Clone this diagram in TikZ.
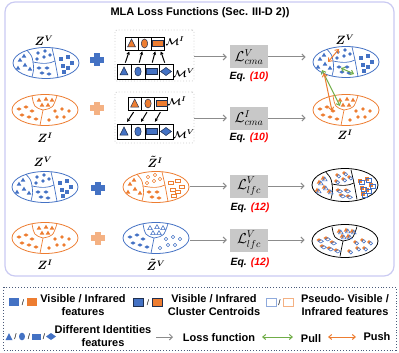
\documentclass[tikz,border=0pt]{standalone}
\usepackage{amsmath}
\usepackage{fontspec}
\setsansfont{Liberation Sans}
\usetikzlibrary{shapes.geometric,arrows.meta}
\definecolor{myblue}{HTML}{4472C4}
\definecolor{myorange}{HTML}{ED7D31}
\definecolor{lorange}{HTML}{F4A57A}
\definecolor{mygreen}{HTML}{70AD47}
\definecolor{lav}{HTML}{CACAF2}
\definecolor{legc}{HTML}{4A5A7A}
\definecolor{darkline}{HTML}{1F2F4F}
\definecolor{lboxc}{HTML}{C8C8C8}
\definecolor{garrc}{HTML}{8C8C8C}
\definecolor{lblue}{HTML}{8FAADC}
\definecolor{lorg}{HTML}{F4B183}
% small feature markers
\newcommand\mtri[3]{\path[#1] (#2,#3) ++(0,-2.3) -- ++(2.3,3.9) -- ++(-4.6,0) -- cycle;}
\newcommand\mcir[3]{\path[#1] (#2,#3) circle[radius=1.8pt];}
\newcommand\mrec[3]{\path[#1] (#2-2.3,#3-1.6) rectangle ++(4.6,3.2);}
\newcommand\mdia[3]{\path[#1] (#2-2.6,#3) -- ++(2.6,-1.7) -- ++(2.6,1.7) -- ++(-2.6,1.7) -- cycle;}
\newcommand\setFour[4]{%
 \foreach \a/\b in {-26/-3,-21/2,-28/5,-22/-7,-16/6} {\mtri{#1}{\a}{\b}}
 \foreach \a/\b in {-8/-10,-1/-12,4/-8,-9/-4,-2/-6} {\mcir{#2}{\a}{\b}}
 \foreach \a/\b in {-7/5,1/5,-4/10,3/11} {\mdia{#3}{\a}{\b}}
 \foreach \a/\b in {15/-4,22/-6,26/0,17/3,22/5,18/9} {\mrec{#4}{\a}{\b}}}
\newcommand\setThree[3]{%
 \foreach \a/\b in {-6/-10,1/-11,7/-10,-3/-5,3/-5} {\mtri{#1}{\a}{\b}}
 \foreach \a/\b in {-26/-1,-19/-3,-13/1,-23/5,-16/7,-9/9} {\mdia{#2}{\a}{\b}}
 \foreach \a/\b in {10/1,17/-1,24/1,12/7,19/7,4/10} {\mcir{#3}{\a}{\b}}}
\newcommand\fourlines[1]{%
 \draw[#1, line width=0.7pt] (-19,-12.7) .. controls (-14,-7) .. (-13,-1) .. controls (-3,1) and (3,1) .. (9,-2) .. controls (8,-9) .. (6,-15.2);
 \draw[#1, line width=0.7pt] (-13,-1) .. controls (-12,6) .. (-14,14);
 \draw[#1, line width=0.7pt] (9,-2) .. controls (10,6) .. (12,14.4);}
\newcommand\threelines[1]{%
 \draw[#1, line width=0.7pt] (-13,-14.2) .. controls (-11,-3) .. (-2,0) .. controls (8,-2) .. (12,-14.4);
 \draw[#1, line width=0.7pt] (-2,0) .. controls (-3,8) .. (-5,15.3);}
% cell shapes
\newcommand\cTri[2]{\filldraw[fill=#1,draw=darkline,line width=0.5pt] (#2) ++(0,-4.5) -- ++(4,8) -- ++(-8,0) -- cycle;}
\newcommand\cCir[2]{\filldraw[fill=#1,draw=darkline,line width=0.5pt] (#2) ellipse[x radius=3.2pt, y radius=4.5pt];}
\newcommand\cRec[2]{\filldraw[fill=#1,draw=darkline,line width=0.5pt] (#2) ++(-5.5,-3) rectangle ++(11,6);}
\newcommand\cDia[2]{\filldraw[fill=#1,draw=darkline,line width=0.5pt] (#2) ++(-5.5,0) -- ++(5.5,-4) -- ++(5.5,4) -- ++(-5.5,4) -- cycle;}
\newcommand\plussign[2]{\fill[#1] (#2) ++(-2.6,-6.5) rectangle ++(5.2,13); \fill[#1] (#2) ++(-7,-2.6) rectangle ++(14,5.2);}
\begin{document}
\begin{tikzpicture}[x=1pt,y=-1pt,
 ell/.style={ellipse, minimum width=66pt, minimum height=31pt, inner sep=0pt, line width=0.8pt},
 mbox/.style={draw=gray!40, dotted, line width=0.9pt, rounded corners=2pt, inner sep=0pt, minimum width=79pt, minimum height=51pt},
 cell/.style={draw=black, fill=white, line width=0.8pt, inner sep=0pt},
 celli/.style={cell, minimum width=13pt, minimum height=13pt},
 cellv/.style={cell, minimum width=14pt, minimum height=15pt},
 marr/.style={-{Stealth[length=3.5pt,width=3.5pt]}, line width=1pt, shorten <=1pt, shorten >=1pt},
 garr/.style={-{Straight Barb[length=3pt,width=6pt]}, draw=garrc, line width=1pt},
 dbl/.style={{Straight Barb[length=3pt,width=5pt]}-{Straight Barb[length=3pt,width=5pt]}, line width=1pt},
 lbox/.style={fill=lboxc, minimum width=38pt, minimum height=23pt, inner sep=0pt, font=\fontsize{14}{16}\selectfont},
 eqlab/.style={font=\sffamily\bfseries\itshape\fontsize{10.5}{12}\selectfont},
 zlab/.style={font=\fontsize{11.5}{13}\selectfont\boldmath, inner sep=0pt},
 mlab/.style={font=\fontsize{10}{12}\selectfont\boldmath, inner sep=0pt},
 leg/.style={font=\sffamily\bfseries\fontsize{11}{13}\selectfont, align=center, inner sep=0pt},
 sl/.style={font=\sffamily\fontsize{8}{9}\selectfont, inner sep=0pt},
 fb/.style={fill=myblue}, fo/.style={fill=myorange},
 hb/.style={draw=myblue, line width=0.6pt}, ho/.style={draw=myorange, line width=0.6pt}]
\useasboundingbox (0,0) rectangle (399,353);
\draw[lav, line width=1.2pt, rounded corners=10pt] (5,2) rectangle (394,276);
\node[font=\sffamily\bfseries\fontsize{11}{13}\selectfont] (title) at (200,13) {MLA Loss Functions (Sec. III-D 2))};

% ===== Row 1 =====
\node[ell, draw=myblue] (zv1) at (46,63) {};
\begin{scope}[shift={(46,63)}] \fourlines{myblue} \setFour{fb}{fb}{fb}{fb} \end{scope}
\node[zlab] (lzv1) at (44,41) {$Z^{V}$};
\plussign{myblue}{97,60}
\node[mbox] (mb1) at (154.5,55.5) {};
\node[celli] (i11) at (131.5,43.5) {};
\node[celli] (i12) at (144.5,43.5) {};
\node[celli] (i13) at (157.5,43.5) {};
\node[cellv] (v11) at (124,71.5) {};
\node[cellv] (v12) at (138,71.5) {};
\node[cellv] (v13) at (152,71.5) {};
\node[cellv] (v14) at (166,71.5) {};
\cTri{myorange}{i11.center} \cCir{myorange}{i12.center} \cRec{myorange}{i13.center}
\cTri{myblue}{v11.center} \cCir{myblue}{v12.center} \cRec{myblue}{v13.center} \cDia{myblue}{v14.center}
\node[mlab] (mi1) at (175,41) {$\mathcal{M}^{I}$};
\node[mlab] (mv1) at (184,73) {$\mathcal{M}^{V}$};
\draw[marr] ([xshift=1pt]v11.north) -- ([xshift=-2pt]i11.south);
\draw[marr] ([xshift=1pt]v12.north) -- ([xshift=-2pt]i12.south);
\draw[marr] (v13.north) -- ([xshift=-2pt]i13.south);
\draw[marr] ([xshift=-1pt]v14.north) -- ([xshift=3pt]i13.south);
\node[lbox] (L1) at (249,57) {$\mathcal{L}^{V}_{cma}$};
\node[eqlab] (e1) at (249,77) {Eq. \textcolor{red}{(10)}};
\draw[garr, shorten >=3pt] (mb1.east |- L1.west) -- (L1.west);
\node[ell, draw=myblue] (zvr) at (346,62) {};
\begin{scope}[shift={(346,62)}] \fourlines{myblue} \setFour{fb}{fb}{fb}{fb} \end{scope}
\node[zlab] (lzvr) at (345,40) {$Z^{V}$};
\draw[garr, shorten >=7pt] (L1.east) -- (L1.east -| zvr.west);

% ===== Row 2 =====
\node[ell, draw=myorange] (zi2) at (45,110) {};
\begin{scope}[shift={(45,110)}] \threelines{myorange} \setThree{fo}{fo}{fo} \end{scope}
\node[zlab] (lzi2) at (45,138) {$Z^{I}$};
\plussign{lorg}{97,108}
\node[mbox] (mb2) at (154.5,117.5) {};
\node[celli] (i21) at (134.7,103.5) {};
\node[celli] (i22) at (148,103.5) {};
\node[celli] (i23) at (161.3,103.5) {};
\node[cellv] (v21) at (124,131.5) {};
\node[cellv] (v22) at (138,131.5) {};
\node[cellv] (v23) at (152,131.5) {};
\node[cellv] (v24) at (166,131.5) {};
\cTri{myorange}{i21.center} \cCir{myorange}{i22.center} \cRec{myorange}{i23.center}
\cTri{myblue}{v21.center} \cCir{myblue}{v22.center} \cRec{myblue}{v23.center} \cDia{myblue}{v24.center}
\node[mlab] (mi2) at (177,101) {$\mathcal{M}^{I}$};
\node[mlab] (mv2) at (184,134) {$\mathcal{M}^{V}$};
\draw[marr, shorten <=2pt, shorten >=2pt] (i21.south) -- ([xshift=2pt]v21.north);
\draw[marr, shorten <=2pt, shorten >=2pt] (i22.south) -- ([xshift=2pt]v22.north);
\draw[marr, shorten <=2pt, shorten >=2pt] (i23.south) -- ([xshift=2pt]v23.north);
\node[lbox] (L2) at (249,118) {$\mathcal{L}^{I}_{cma}$};
\node[eqlab] (e2) at (249,138) {Eq. \textcolor{red}{(10)}};
\draw[garr, shorten >=3pt] (mb2.east |- L2.west) -- (L2.west);
\node[ell, draw=myorange] (zir) at (346,110) {};
\begin{scope}[shift={(346,110)}] \threelines{myorange} \setThree{fo}{fo}{fo} \end{scope}
\node[zlab] (lzir) at (345,135) {$Z^{I}$};
\draw[garr, shorten >=7pt] (L2.east) -- (L2.east -| zir.west);
% pull / push between modalities
\coordinate (pa1) at (339,49); \coordinate (pa2) at (328,62);
\coordinate (ga1) at (341,68); \coordinate (ga2) at (354,74);
\coordinate (gb1) at (322,70); \coordinate (gb2) at (340,106);
\coordinate (pb1) at (324,73); \coordinate (pb2) at (332,111);
\draw[dbl, draw=myorange] (pa1) -- (pa2);
\draw[dbl, draw=mygreen] (ga1) -- (ga2);
\draw[dbl, draw=mygreen] (gb1) -- (gb2);
\draw[dbl, draw=myorange] (pb1) -- (pb2);

% ===== Row 3 =====
\node[ell, draw=myblue] (zv3) at (45,187) {};
\begin{scope}[shift={(45,187)}] \fourlines{myblue} \setFour{fb}{fb}{fb}{fb} \end{scope}
\node[zlab] (lzv3) at (43,162) {$Z^{V}$};
\plussign{myblue}{98,188}
\node[ell, draw=myorange] (zti3) at (156,187) {};
\begin{scope}[shift={(156,187)}] \fourlines{myorange} \setFour{fo}{ho}{fo}{ho} \end{scope}
\node[zlab] (lzti3) at (155,162) {$\tilde{Z}^{I}$};
\node[lbox] (L3) at (249,186) {$\mathcal{L}^{V}_{lfc}$};
\node[eqlab] (e3) at (250,208) {Eq. \textcolor{red}{(12)}};
\draw[garr, shorten <=1pt, shorten >=3pt] (zti3.east |- L3.west) -- (L3.west);
\node[ell, draw=black, minimum height=33pt] (zm3) at (345,185) {};
\begin{scope}[shift={(345,185)}] \fourlines{black} \setFour{fo}{fo}{fo}{fo}
 \begin{scope}[shift={(1.8,1.3)}] \setFour{hb}{hb}{hb}{hb} \end{scope} \end{scope}
\draw[garr, shorten >=7pt] (L3.east) -- (L3.east -| zm3.west);

% ===== Row 4 =====
\node[ell, draw=myorange] (zi4) at (45,238) {};
\begin{scope}[shift={(45,238)}] \threelines{myorange} \setThree{fo}{fo}{fo} \end{scope}
\node[zlab] (lzi4) at (45,265) {$Z^{I}$};
\plussign{lorg}{98,238}
\node[ell, draw=myblue] (ztv4) at (156,238) {};
\begin{scope}[shift={(156,238)}] \threelines{myblue} \setThree{hb}{fb}{hb} \end{scope}
\node[zlab] (lztv4) at (156,265) {$\tilde{Z}^{V}$};
\node[lbox] (L4) at (249,240) {$\mathcal{L}^{V}_{lfc}$};
\node[eqlab] (e4) at (250,263) {Eq. \textcolor{red}{(12)}};
\draw[garr, shorten <=1pt, shorten >=3pt] (ztv4.east |- L4.west) -- (L4.west);
\node[ell, draw=black, minimum height=33pt] (zm4) at (345,241) {};
\begin{scope}[shift={(345,241)}] \threelines{black} \setThree{fo}{fo}{fo}
 \begin{scope}[shift={(1.8,1.3)}] \setThree{hb}{hb}{hb} \end{scope} \end{scope}
\draw[garr, shorten >=7pt] (L4.east) -- (L4.east -| zm4.west);

% ===== Legend =====
\draw[legc, dotted, line width=0.9pt] (3,287) rectangle (396,350);
\fill[myblue] (9,298) rectangle (19,306);
\node[sl] (s1) at (23,303) {/};
\fill[myorange] (27,298) rectangle (37,306);
\node[leg] (t1) at (83,305.5) {Visible / Infrared\\features};
\filldraw[fill=myblue, draw=darkline, line width=0.8pt] (133,298) rectangle (143,306);
\node[sl] (s2) at (148,303) {/};
\filldraw[fill=myorange, draw=darkline, line width=0.8pt] (152,298) rectangle (162,306);
\node[leg] (t2) at (214,305.5) {Visible / Infrared\\Cluster Centroids};
\draw[lblue, line width=0.8pt] (266,298) rectangle (276,306);
\node[sl] (s3) at (279.5,303) {/};
\draw[lorg, line width=0.8pt] (283,298) rectangle (293,306);
\node[leg] (t3) at (345,305.5) {Pseudo- Visible /\\Infrared features};
\fill[myblue] (9,333) -- (12.5,340) -- (5.5,340) -- cycle;
\node[sl] (s4) at (15.5,337) {/};
\fill[myblue] (22,336.5) ellipse[x radius=3pt, y radius=3.8pt];
\node[sl] (s5) at (29,337) {/};
\fill[myblue] (32,333.5) rectangle (41,339.5);
\node[sl] (s6) at (44,337) {/};
\fill[myblue] (46,336.5) -- (51,333) -- (56,336.5) -- (51,340) -- cycle;
\node[leg] (t4) at (103,336.5) {Different Identities\\features};
\coordinate (la1) at (156,337); \coordinate (la2) at (173,337);
\draw[garr] (la1) -- (la2);
\node[leg] (t5) at (219,338) {Loss function};
\coordinate (lg1) at (262,337); \coordinate (lg2) at (293,337);
\draw[dbl, draw=mygreen] (lg1) -- (lg2);
\node[leg] (t6) at (311,338.5) {Pull};
\coordinate (lo1) at (328,337); \coordinate (lo2) at (356,337);
\draw[dbl, draw=myorange] (lo1) -- (lo2);
\node[leg] (t7) at (377,337) {Push};
\end{tikzpicture}
\end{document}
